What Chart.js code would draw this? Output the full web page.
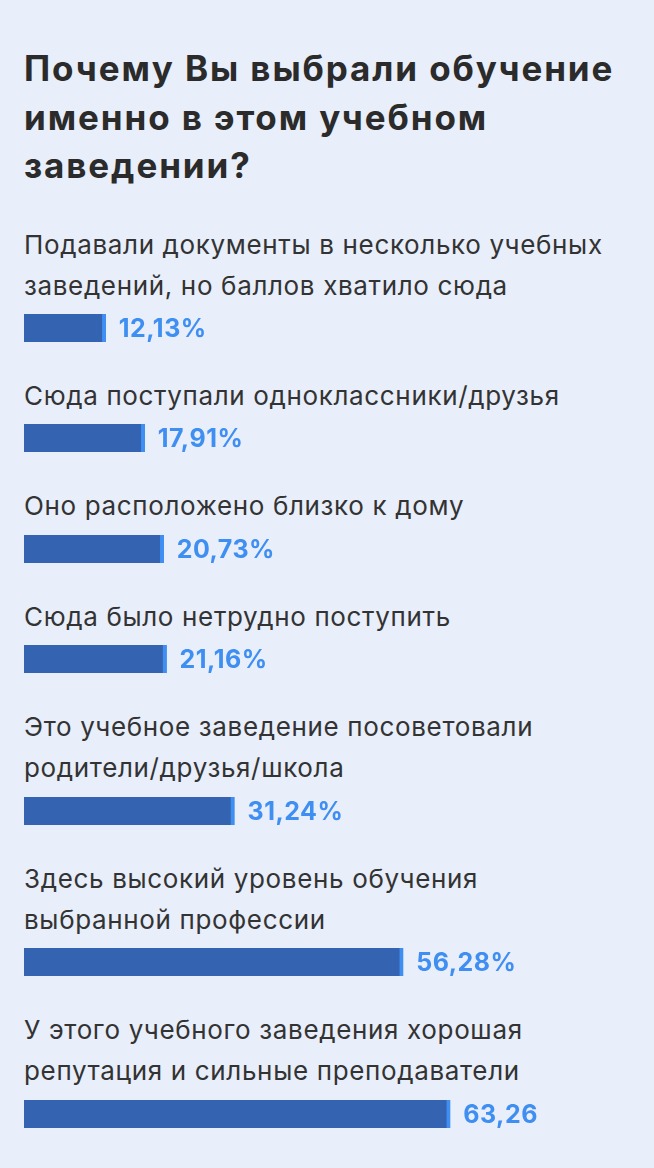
<!DOCTYPE html>
<html lang="ru">
  <head>
    <meta charset="UTF-8" />
    <title>Почему Вы выбрали обучение</title>
    <script src="https://cdn.jsdelivr.net/npm/chart.js"></script>
    <style>
      html,
      body {
        margin: 0;
        padding: 0;
        background: #e8eefa;
      }
      body {
        width: 654px;
        height: 1168px;
        overflow: hidden;
        font-family: Inter, 'Noto Sans', sans-serif;
        color: #2e2e2e;
      }
      #wrap {
        padding: 44px 0 0 24px;
      }
      h1 {
        margin: 0 0 34px 0;
        font-size: 35px;
        line-height: 48.5px;
        font-weight: 700;
        letter-spacing: 1.9px;
        color: #2b2b2b;
        white-space: nowrap;
      }
      .label {
        font-size: 26px;
        line-height: 41.3px;
        color: #333;
        letter-spacing: 0.65px;
        white-space: nowrap;
      }
      .bar {
        position: relative;
        width: 630px;
        height: 44px;
        margin-bottom: 25px;
      }
    </style>
  </head>
  <body>
    <div id="wrap">
      <h1>Почему Вы выбрали обучение<br />именно в этом учебном<br />заведении?</h1>
      <div id="items"></div>
    </div>
    <script>
      // answers (line breaks as in the picture)
      const categories = [
        ['Подавали документы в несколько учебных', 'заведений, но баллов хватило сюда'],
        ['Сюда поступали одноклассники/друзья'],
        ['Оно расположено близко к дому'],
        ['Сюда было нетрудно поступить'],
        ['Это учебное заведение посоветовали', 'родители/друзья/школа'],
        ['Здесь высокий уровень обучения', 'выбранной профессии'],
        ['У этого учебного заведения хорошая', 'репутация и сильные преподаватели']
      ]
      const values = [12.13, 17.91, 20.73, 21.16, 31.24, 56.28, 63.26]
      const valueLabels = ['12,13%', '17,91%', '20,73%', '21,16%', '31,24%', '56,28%', '63,26']
      const xMax = 93.5

      // value text right after the bar end
      const valueText = {
        id: 'valueText',
        afterDatasetsDraw(chart) {
          const ctx = chart.ctx
          const bar = chart.getDatasetMeta(0).data[0]
          ctx.save()
          ctx.fillStyle = '#3f8ef2'
          ctx.font = '700 25px Inter, "Noto Sans", sans-serif'
          ctx.letterSpacing = '0.5px'
          ctx.textBaseline = 'middle'
          ctx.fillText(chart.options.plugins.valueText.text, bar.x + 13, bar.y + 1)
          ctx.restore()
        }
      }

      const items = document.getElementById('items')
      categories.forEach((lines, i) => {
        const lab = document.createElement('div')
        lab.className = 'label'
        lab.innerHTML = lines.join('<br>')
        items.appendChild(lab)

        const box = document.createElement('div')
        box.className = 'bar'
        const cv = document.createElement('canvas')
        box.appendChild(cv)
        items.appendChild(box)

        new Chart(cv, {
          type: 'bar',
          data: {
            labels: [lines.join(' ')],
            datasets: [
              {
                data: [values[i]],
                backgroundColor: '#3463b1',
                borderColor: '#3f8ef2',
                borderWidth: { top: 0, right: 4, bottom: 0, left: 0 },
                borderSkipped: false,
                barThickness: 28
              }
            ]
          },
          options: {
            indexAxis: 'y',
            responsive: true,
            maintainAspectRatio: false,
            animation: false,
            layout: { padding: 0 },
            scales: {
              x: { min: 0, max: xMax, display: false },
              y: { display: false }
            },
            plugins: {
              legend: { display: false },
              tooltip: { enabled: false },
              valueText: { text: valueLabels[i] }
            }
          },
          plugins: [valueText]
        })
      })
    </script>
  </body>
</html>
